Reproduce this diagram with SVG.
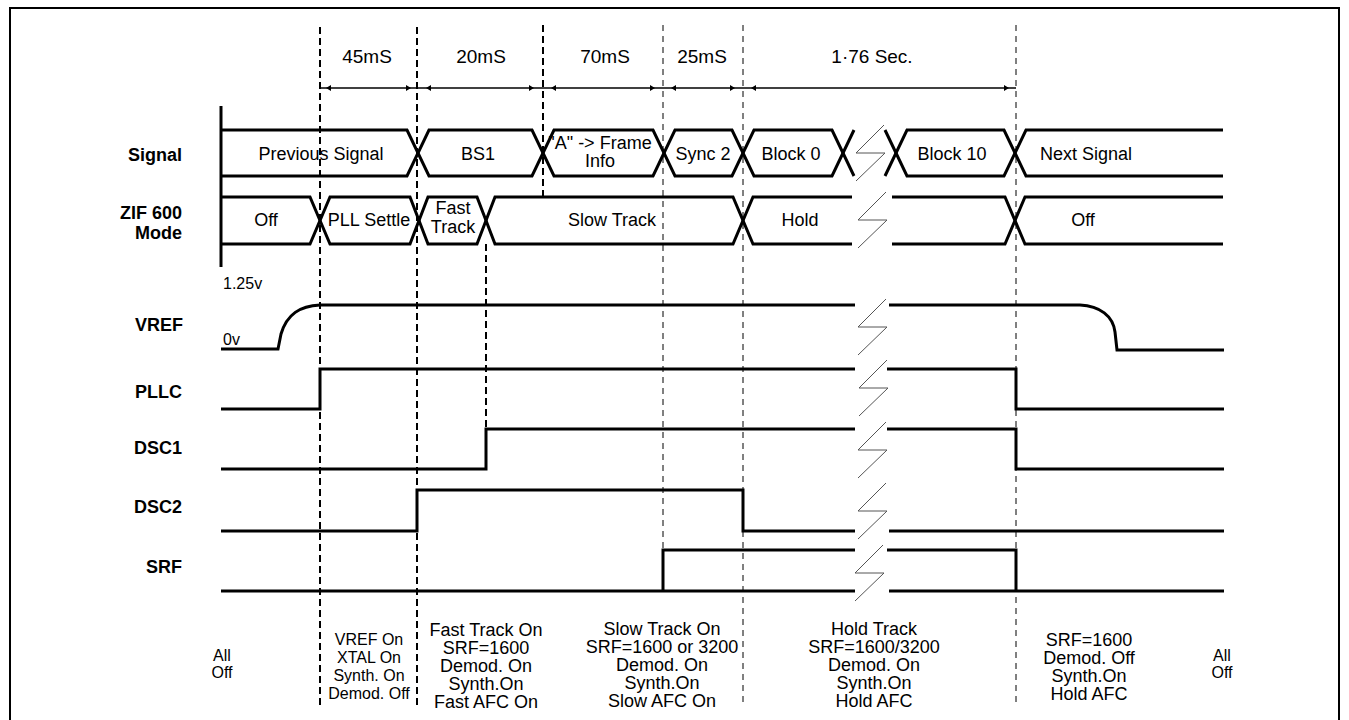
<svg xmlns="http://www.w3.org/2000/svg" width="1349" height="720" viewBox="0 0 1349 720">
<style>
text{font-family:"Liberation Sans",Arial,sans-serif;fill:#000}
.lbl{font-size:18px;font-weight:bold;text-anchor:end}
.t{font-size:18px;text-anchor:middle}
.h{font-size:19px;text-anchor:middle}
.s{font-size:16px;text-anchor:middle}
.v{font-size:16px}
.w{fill:none;stroke:#000;stroke-width:3;stroke-linejoin:miter}
.dk{fill:none;stroke:#000;stroke-width:2;stroke-dasharray:7 4}
.dt{fill:none;stroke:#000;stroke-width:1;stroke-dasharray:6 5}
.brk{fill:none;stroke:#555;stroke-width:1}
.ah{fill:#000}
</style>
<defs>
<path id="zz" d="M886,-28 L858,0 L887,0 L858,28"/>
</defs>
<rect width="1349" height="720" fill="#fff"/>
<g id="frame">
<path d="M10,730 V8 H1339 V730" fill="none" stroke="#000" stroke-width="2"/>
<line x1="221" y1="106" x2="221" y2="267" stroke="#000" stroke-width="3"/>
</g>
<g id="connectors">
<line class="dk" x1="320" y1="27" x2="320" y2="707"/>
<line class="dk" x1="417" y1="27" x2="417" y2="707"/>
<line class="dk" x1="543" y1="25" x2="543" y2="197"/>
<line class="dk" x1="486" y1="244" x2="486" y2="429"/>
<line class="dt" x1="663" y1="25" x2="663" y2="550"/>
<line class="dt" x1="743" y1="25" x2="743" y2="707"/>
<line class="dt" x1="1016" y1="25" x2="1016" y2="707"/>
<line x1="320" y1="88" x2="1016" y2="88" stroke="#000" stroke-width="1.5"/>
<path class="ah" d="M326,88 L331,85 L331,91 Z M411,88 L406,85 L406,91 Z"/>
<path class="ah" d="M426,88 L431,85 L431,91 Z M534,88 L529,85 L529,91 Z"/>
<path class="ah" d="M551,88 L556,85 L556,91 Z M655,88 L650,85 L650,91 Z"/>
<path class="ah" d="M671,88 L676,85 L676,91 Z M735,88 L730,85 L730,91 Z"/>
<path class="ah" d="M751,88 L756,85 L756,91 Z M1009,88 L1004,85 L1004,91 Z"/>
</g>
<g id="header">
<text class="h" x="367" y="63">45mS</text>
<text class="h" x="481" y="63">20mS</text>
<text class="h" x="605" y="63">70mS</text>
<text class="h" x="702" y="63">25mS</text>
<text class="h" x="872" y="63">1·76 Sec.</text>
</g>
<g id="signal">
<text class="lbl" x="182" y="161">Signal</text>
<path class="w" d="M221,130 H407 L429,176 H532 L554,130 H653 L675,176 H732 L754,130 H832 L854,176"/>
<path class="w" d="M221,176 H407 L429,130 H532 L554,176 H653 L675,130 H732 L754,176 H832 L854,130"/>
<path class="w" d="M885,130 L907,176 H1004 L1026,130 H1223"/>
<path class="w" d="M885,176 L907,130 H1004 L1026,176 H1223"/>
<use href="#zz" class="brk" transform="translate(-2,153)"/>
<text class="t" x="321" y="160">Previous Signal</text>
<text class="t" x="478" y="160">BS1</text>
<text class="t" x="600" y="149">"A" -&gt; Frame</text>
<text class="t" x="600" y="167">Info</text>
<text class="t" x="703" y="160">Sync 2</text>
<text class="t" x="791" y="160">Block 0</text>
<text class="t" x="952" y="160">Block 10</text>
<text class="t" x="1086" y="160">Next Signal</text>
</g>
<g id="zif">
<text class="lbl" x="182" y="219">ZIF 600</text>
<text class="lbl" x="182" y="239">Mode</text>
<path class="w" d="M221,197 H310 L330,244 H410 L428,197 H477 L495,244 H733 L753,197 H852"/>
<path class="w" d="M221,244 H310 L330,197 H410 L428,244 H477 L495,197 H733 L753,244 H852"/>
<path class="w" d="M892,197 H1005 L1025,244 H1223"/>
<path class="w" d="M892,244 H1005 L1025,197 H1223"/>
<use href="#zz" class="brk" transform="translate(0,220)"/>
<text class="t" x="266" y="226">Off</text>
<text class="t" x="369" y="226">PLL Settle</text>
<text class="t" x="453" y="214">Fast</text>
<text class="t" x="453" y="233">Track</text>
<text class="t" x="612" y="226">Slow Track</text>
<text class="t" x="800" y="226">Hold</text>
<text class="t" x="1083" y="226">Off</text>
</g>
<g id="vref">
<text class="v" x="223" y="289">1.25v</text>
<text class="v" x="223" y="345">0v</text>
<text class="lbl" x="183" y="331">VREF</text>
<path class="w" d="M221,349 H278 L281,334 C287,314 300,306 320,305 H855"/>
<path class="w" d="M889,305 H1080 C1100,306 1113,316 1115,332 L1117,350 H1224"/>
<use href="#zz" class="brk" transform="translate(0,327)"/>
</g>
<g id="pllc">
<text class="lbl" x="182" y="398">PLLC</text>
<path class="w" d="M221,409 H320 V369 H855"/>
<path class="w" d="M887,369 H1016 V409 H1224"/>
<use href="#zz" class="brk" transform="translate(1,388)"/>
</g>
<g id="dsc1">
<text class="lbl" x="182" y="454">DSC1</text>
<path class="w" d="M221,469 H486 V429 H855"/>
<path class="w" d="M887,429 H1016 V469 H1224"/>
<use href="#zz" class="brk" transform="translate(0,450)"/>
</g>
<g id="dsc2">
<text class="lbl" x="182" y="513">DSC2</text>
<path class="w" d="M221,531 H417 V490 H743 V531 H855"/>
<path class="w" d="M889,531 H1224"/>
<use href="#zz" class="brk" transform="translate(0,511)"/>
</g>
<g id="srf">
<text class="lbl" x="182" y="573">SRF</text>
<path class="w" d="M221,591 H855"/>
<path class="w" d="M889,591 H1224"/>
<path class="w" d="M663,591 V550 H855"/>
<path class="w" d="M887,550 H1016 V591"/>
<use href="#zz" class="brk" transform="translate(-3,573)"/>
</g>
<g id="states">
<text class="v" x="222" y="661" text-anchor="middle">All</text>
<text class="v" x="222" y="678" text-anchor="middle">Off</text>
<text class="s" x="369" y="645">VREF On</text>
<text class="s" x="369" y="663">XTAL On</text>
<text class="s" x="369" y="681">Synth. On</text>
<text class="s" x="369" y="699">Demod. Off</text>
<text class="t" x="486" y="636">Fast Track On</text>
<text class="t" x="486" y="654">SRF=1600</text>
<text class="t" x="486" y="672">Demod. On</text>
<text class="t" x="486" y="690">Synth.On</text>
<text class="t" x="486" y="708">Fast AFC On</text>
<text class="t" x="662" y="635">Slow Track On</text>
<text class="t" x="662" y="653">SRF=1600 or 3200</text>
<text class="t" x="662" y="671">Demod. On</text>
<text class="t" x="662" y="689">Synth.On</text>
<text class="t" x="662" y="707">Slow AFC On</text>
<text class="t" x="874" y="635">Hold Track</text>
<text class="t" x="874" y="653">SRF=1600/3200</text>
<text class="t" x="874" y="671">Demod. On</text>
<text class="t" x="874" y="689">Synth.On</text>
<text class="t" x="874" y="707">Hold AFC</text>
<text class="t" x="1089" y="646">SRF=1600</text>
<text class="t" x="1089" y="664">Demod. Off</text>
<text class="t" x="1089" y="682">Synth.On</text>
<text class="t" x="1089" y="700">Hold AFC</text>
<text class="v" x="1222" y="661" text-anchor="middle">All</text>
<text class="v" x="1222" y="678" text-anchor="middle">Off</text>
</g>
</svg>
